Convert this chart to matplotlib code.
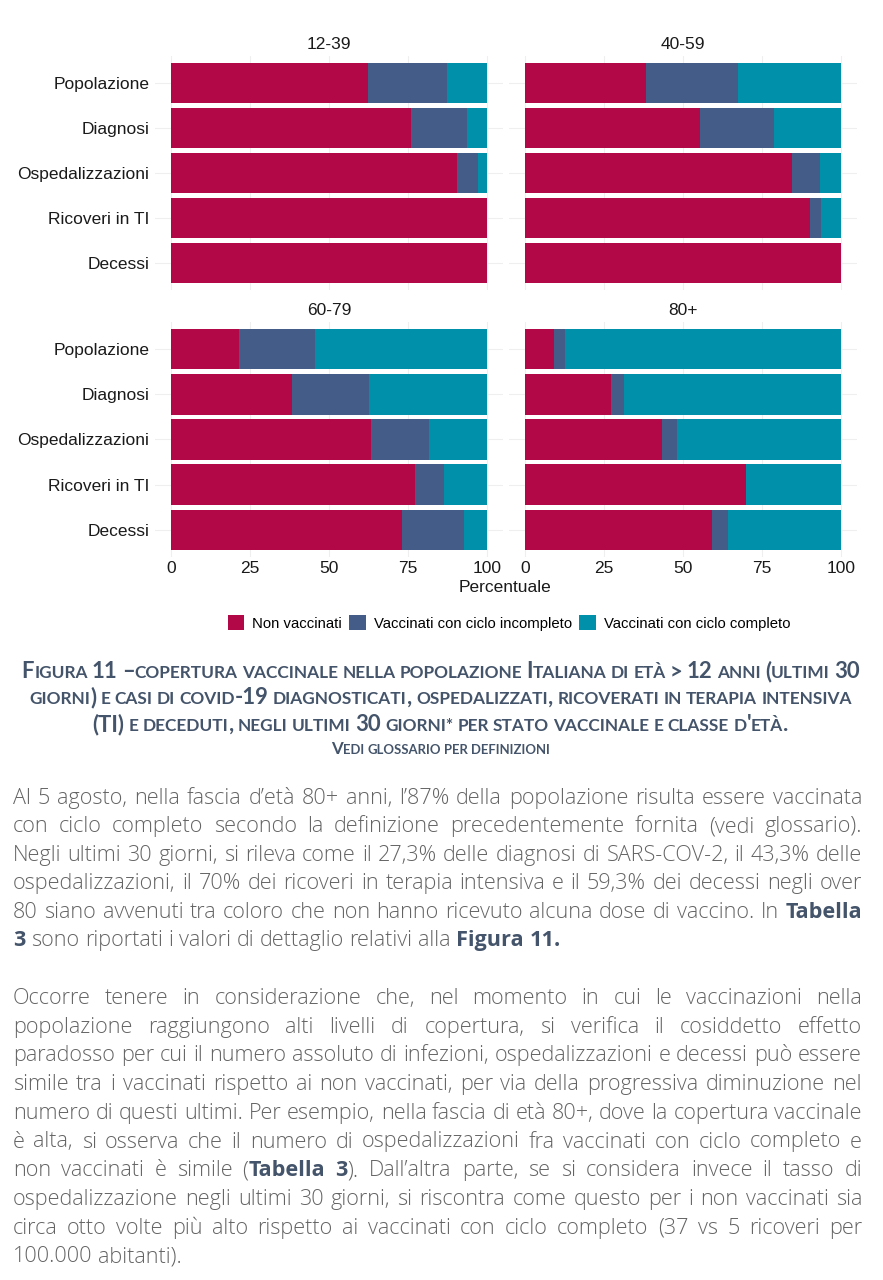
import numpy as np
import matplotlib
matplotlib.use('Agg')
import matplotlib.pyplot as plt
from matplotlib.patches import Patch

plt.rcParams['font.family'] = ['Liberation Sans', 'DejaVu Sans']

# ---- data (percent) ----
categories = ['Popolazione', 'Diagnosi', 'Ospedalizzazioni', 'Ricoveri in TI', 'Decessi']
age_groups = ['12-39', '40-59', '60-79', '80+']
non_vaccinati = [[62.2, 75.8, 90.6, 100.0, 100.0],
                 [38.3, 55.4, 84.5, 90.3, 100.0],
                 [21.7, 38.3, 63.2, 77.1, 73.2],
                 [9.2, 27.3, 43.3, 70.0, 59.3]]
ciclo_incompleto = [[25.0, 17.7, 6.6, 0.0, 0.0],
                    [29.2, 23.3, 8.9, 3.3, 0.0],
                    [24.0, 24.4, 18.5, 9.4, 19.6],
                    [3.6, 4.2, 4.7, 0.0, 4.9]]
ciclo_completo = [[12.8, 6.5, 2.8, 0.0, 0.0],
                  [32.5, 21.3, 6.6, 6.4, 0.0],
                  [54.3, 37.3, 18.3, 13.5, 7.2],
                  [87.2, 68.5, 52.0, 30.0, 35.8]]
series_labels = ['Non vaccinati', 'Vaccinati con ciclo incompleto', 'Vaccinati con ciclo completo']
x_ticks = [0, 25, 50, 75, 100]

caption_lines = [
    "Figura 11 \u2013copertura vaccinale nella popolazione Italiana di et\u00e0 > 12 anni (ultimi 30",
    "giorni) e casi di covid-19 diagnosticati, ospedalizzati, ricoverati in terapia intensiva",
    "(TI) e deceduti, negli ultimi 30 giorni* per stato vaccinale e classe d'et\u00e0.",
]
caption_note = "Vedi glossario per definizioni"

paragraph_1 = [
    "Al 5 agosto, nella fascia d\u2019et\u00e0 80+ anni, l\u201987% della popolazione risulta essere vaccinata",
    "con ciclo completo secondo la definizione precedentemente fornita (vedi glossario).",
    "Negli ultimi 30 giorni, si rileva come il 27,3% delle diagnosi di SARS-COV-2, il 43,3% delle",
    "ospedalizzazioni, il 70% dei ricoveri in terapia intensiva e il 59,3% dei decessi negli over",
    "80 siano avvenuti tra coloro che non hanno ricevuto alcuna dose di vaccino. In **Tabella**",
    "**3** sono riportati i valori di dettaglio relativi alla **Figura 11.**",
]
paragraph_2 = [
    "Occorre tenere in considerazione che, nel momento in cui le vaccinazioni nella",
    "popolazione raggiungono alti livelli di copertura, si verifica il cosiddetto effetto",
    "paradosso per cui il numero assoluto di infezioni, ospedalizzazioni e decessi pu\u00f2 essere",
    "simile tra i vaccinati rispetto ai non vaccinati, per via della progressiva diminuzione nel",
    "numero di questi ultimi. Per esempio, nella fascia di et\u00e0 80+, dove la copertura vaccinale",
    "\u00e8 alta, si osserva che il numero di ospedalizzazioni fra vaccinati con ciclo completo e",
    "non vaccinati \u00e8 simile (**Tabella 3**). Dall\u2019altra parte, se si considera invece il tasso di",
    "ospedalizzazione negli ultimi 30 giorni, si riscontra come questo per i non vaccinati sia",
    "circa otto volte pi\u00f9 alto rispetto ai vaccinati con ciclo completo (37 vs 5 ricoveri per",
    "100.000 abitanti).",
]

colors = ['#b30847', '#445c88', '#0090a9']
W, H = 883, 1280

fig = plt.figure(figsize=(W / 100, H / 100), dpi=100)
fig.patch.set_facecolor('white')

# panel boxes in pixels: (left, top, right, bottom)
boxes = [(155, 56, 503, 290), (509, 56, 857, 290),
         (155, 322, 503, 557), (509, 322, 857, 557)]

for i, age in enumerate(age_groups):
    l, t, r, b = boxes[i]
    ax = fig.add_axes([l / W, 1 - b / H, (r - l) / W, (b - t) / H])
    y = np.arange(len(categories))
    nv = np.array(non_vaccinati[i])
    inc = np.array(ciclo_incompleto[i])
    comp = np.array(ciclo_completo[i])
    ax.barh(y, nv, height=0.9, color=colors[0], linewidth=0)
    ax.barh(y, inc, left=nv, height=0.9, color=colors[1], linewidth=0)
    ax.barh(y, comp, left=nv + inc, height=0.9, color=colors[2], linewidth=0)
    ax.set_xlim(-5, 105)
    ax.set_ylim(len(categories) - 0.4, -0.6)
    ax.set_xticks(x_ticks)
    ax.set_yticks(y)
    for s in ax.spines.values():
        s.set_visible(False)
    ax.grid(True, color='#efefef', linewidth=0.8)
    ax.set_axisbelow(True)
    ax.tick_params(length=0, labelsize=12.5, labelcolor='#1a1a1a', pad=4)
    if i % 2 == 0:
        ax.set_yticklabels(categories)
    else:
        ax.set_yticklabels([])
    if i < 2:
        ax.set_xticklabels([])
    else:
        ax.set_xticklabels([str(v) for v in x_ticks])
        ax.tick_params(axis='x', pad=3)
    ax.set_title(age, fontsize=12.5, pad=5, color='#1a1a1a')

fig.text(505 / W, 1 - 587 / H, 'Percentuale', ha='center', va='center',
         fontsize=12.5, color='#1a1a1a')

handles = [Patch(facecolor=c, edgecolor='none') for c in colors]
fig.legend(handles, series_labels, loc='center', bbox_to_anchor=(509 / W, 1 - 623 / H),
           ncol=3, frameon=False, fontsize=10.7, handlelength=1.1, handleheight=1.1,
           handletextpad=0.55, columnspacing=0.5, borderaxespad=0)

# ---- text below the chart ----
renderer = fig.canvas.get_renderer()


def measure(s, **kw):
    t = fig.text(0, 0, s, **kw)
    w = t.get_window_extent(renderer).width
    t.remove()
    return w


def advance(s, **kw):
    # width including side bearings, using a bar as reference glyph
    return measure(s + '|', **kw) - measure('|', **kw)


def space_width(**kw):
    return measure('x x', **kw) - measure('xx', **kw)


def draw_words(words, base_y, x0, x1, mode, space_kw, draw=True):
    widths = [sum(advance(s, **kw) for s, kw in w) for w in words]
    space = space_width(**space_kw)
    total = sum(widths) + space * (len(words) - 1)
    if not draw:
        return total
    if mode == 'justify' and len(words) > 1:
        gap = (x1 - x0 - sum(widths)) / (len(words) - 1)
        x = x0
    elif mode == 'center':
        gap = space
        x = (x0 + x1) / 2 - total / 2
    else:
        gap = space
        x = x0
    for w, wd in zip(words, widths):
        xx = x
        for s, kw in w:
            fig.text(xx / W, 1 - base_y / H, s, ha='left', va='baseline', **kw)
            xx += advance(s, **kw)
        x += wd + gap
    return total


def body_styles(size):
    normal = dict(family=['Open Sans', 'DejaVu Sans'], fontsize=size, color='#646464',
                  fontweight='light')
    bold = dict(normal, color='#44546a', fontweight='bold')
    return normal, bold


def parse_bold(line, size):
    normal, bold = body_styles(size)
    words = [[]]
    for k, part in enumerate(line.split('**')):
        kw = bold if k % 2 else normal
        for j, p in enumerate(part.split(' ')):
            if j > 0:
                words.append([])
            if p:
                words[-1].append((p, kw))
    return [w for w in words if w], normal


def parse_smallcaps(line, size):
    big = dict(family=['Lato', 'DejaVu Sans'], fontsize=size, color='#44546a', fontweight='bold')
    small = dict(big, fontsize=size * 0.78)
    words = []
    for word in line.split(' '):
        segs = []
        for ch in word:
            kw = small if (ch.islower() or ch == '*') else big
            txt = ch.upper()
            if segs and segs[-1][1] is kw:
                segs[-1] = (segs[-1][0] + txt, kw)
            else:
                segs.append((txt, kw))
        words.append(segs)
    return words, small


# caption: fit first line to the width seen in the reference
w0, sk = parse_smallcaps(caption_lines[0], 14.0)
cap_size = 14.0 * 839 / draw_words(w0, 0, 0, 0, 'center', sk, draw=False)
caption_y = [678, 704, 731]
for line, yb in zip(caption_lines, caption_y):
    words, sk = parse_smallcaps(line, cap_size)
    draw_words(words, yb, 19, 862, 'center', sk)
words, sk = parse_smallcaps(caption_note, cap_size * 0.76)
draw_words(words, 754, 19, 862, 'center', sk)

# body: pick a size so the widest line fills the column with normal spacing
x_left, x_right = 13, 862
widest = 0
for line in paragraph_1[:-1] + paragraph_2[:-1]:
    words, nk = parse_bold(line, 13.0)
    widest = max(widest, draw_words(words, 0, 0, 0, 'left', nk, draw=False))
body_size = 13.0 * (x_right - x_left - 2) / widest

for k, line in enumerate(paragraph_1):
    mode = 'left' if k == len(paragraph_1) - 1 else 'justify'
    words, nk = parse_bold(line, body_size)
    draw_words(words, 804 + k * 28.4, x_left, x_right, mode, nk)
for k, line in enumerate(paragraph_2):
    mode = 'left' if k == len(paragraph_2) - 1 else 'justify'
    words, nk = parse_bold(line, body_size)
    draw_words(words, 1004 + k * 28.7, x_left, x_right, mode, nk)

fig.savefig('out.png', dpi=100, facecolor='white')
